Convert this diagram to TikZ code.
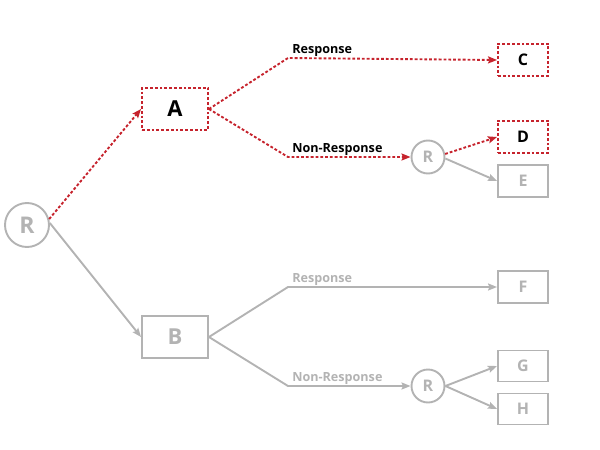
\documentclass[tikz,border=0pt]{standalone}
\usepackage{fontspec}
\setmainfont{Open Sans}
\usetikzlibrary{arrows.meta}
\definecolor{treered}{HTML}{C6232D}
\definecolor{treegray}{HTML}{B3B3B3}

\begin{document}
\begin{tikzpicture}[x=1pt,y=-1pt,
  red path/.style={treered,line width=1.9pt,dash pattern=on 2.8pt off 2pt,-{Stealth[length=9pt,width=7pt,inset=1.5pt]}},
  gray path/.style={treegray,line width=1.9pt,-{Stealth[length=9pt,width=7pt,inset=1.5pt]}},
  redbox/.style={draw=treered,line width=1.9pt,dash pattern=on 2.8pt off 2pt,font=\bfseries},
  graybox/.style={draw=treegray,line width=1.9pt,text=treegray,font=\bfseries},
  rand/.style={circle,draw=treegray,line width=1.9pt,text=treegray,font=\bfseries,inner sep=0pt},
  branch/.style={pos=0,anchor=base west,font=\bfseries\fontsize{12.6}{12.6}\selectfont,yshift=5pt}]
\useasboundingbox (0,0) rectangle (600,450);
% randomisation nodes
\node[rand,minimum size=44pt,font=\bfseries\fontsize{23}{23}\selectfont] (R1) at (27,225) {R};
\node[rand,minimum size=33pt,font=\bfseries\fontsize{16}{16}\selectfont] (R2) at (428,157) {R};
\node[rand,minimum size=33pt,font=\bfseries\fontsize{16}{16}\selectfont] (R3) at (428,386) {R};
% treatment boxes
\node[redbox,minimum width=66pt,minimum height=42pt,font=\bfseries\fontsize{22}{22}\selectfont] (A) at (175,109) {A};
\node[graybox,minimum width=66pt,minimum height=42pt,font=\bfseries\fontsize{22}{22}\selectfont] (B) at (175,337) {B};
% outcome boxes
\node[redbox,minimum width=50pt,minimum height=32pt,font=\bfseries\fontsize{16}{16}\selectfont] (C) at (523,60) {C};
\node[redbox,minimum width=50pt,minimum height=32pt,font=\bfseries\fontsize{16}{16}\selectfont] (D) at (523,137) {D};
\node[graybox,minimum width=50pt,minimum height=32pt,font=\bfseries\fontsize{16}{16}\selectfont] (E) at (523,181) {E};
\node[graybox,minimum width=50pt,minimum height=32pt,font=\bfseries\fontsize{16}{16}\selectfont] (F) at (523,287) {F};
\node[graybox,minimum width=50pt,minimum height=31pt,font=\bfseries\fontsize{16}{16}\selectfont] (G) at (523,366) {G};
\node[graybox,minimum width=50pt,minimum height=31pt,font=\bfseries\fontsize{16}{16}\selectfont] (H) at (523,409) {H};
% bends
\coordinate (a1) at (288,58);
\coordinate (a2) at (288,157);
\coordinate (b1) at (288,287);
\coordinate (b2) at (288,386);
% connectors
\draw[red path] (R1.15) -- (A.west);
\draw[gray path] (R1.5) -- (B.west);
\draw[red path] (A.east) -- (a1) -- (C.west) node[branch,text=black] {Response};
\draw[red path] (A.east) -- (a2) -- (R2) node[branch,text=black] {Non-Response};
\draw[red path] (R2.10) -- (D.west);
\draw[gray path] (R2.-5) -- (E.west);
\draw[gray path] (B.east) -- (b1) -- (F.west) node[branch,text=treegray] {Response};
\draw[gray path] (B.east) -- (b2) -- (R3) node[branch,text=treegray] {Non-Response};
\draw[gray path] (R3.east) -- (G.west);
\draw[gray path] (R3.east) -- (H.west);
\end{tikzpicture}
\end{document}
